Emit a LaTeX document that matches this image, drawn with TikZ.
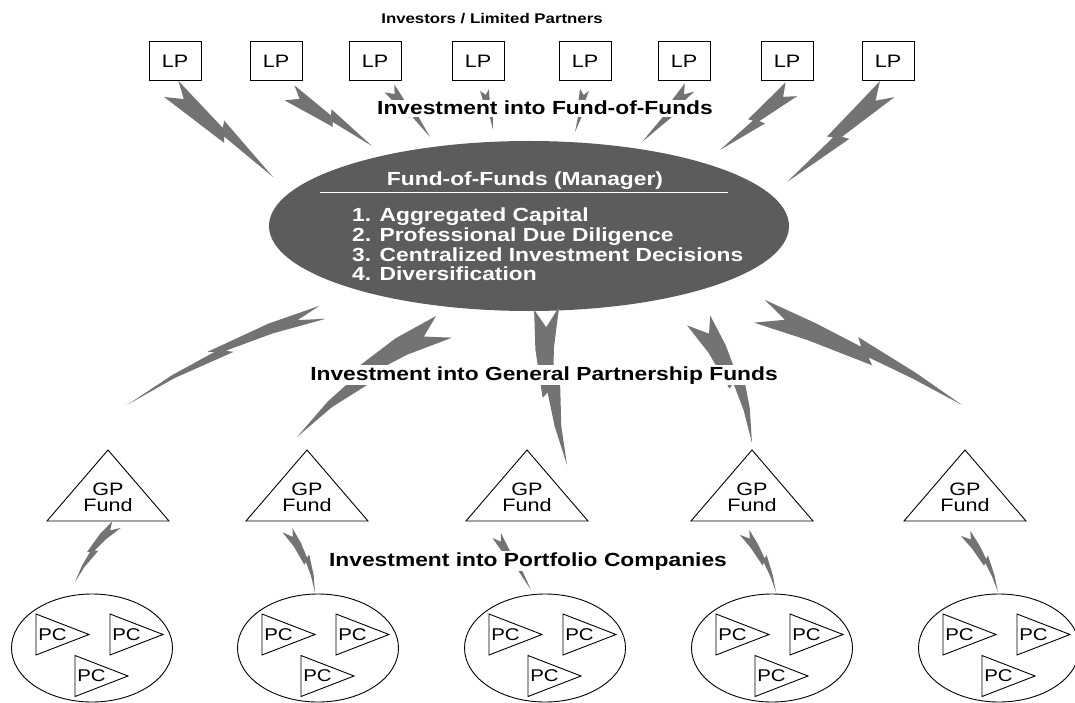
\documentclass[tikz,border=0pt]{standalone}
\usepackage{fontspec}
\setmainfont{Liberation Sans}[FakeStretch=1.2]
\usetikzlibrary{calc,shapes.geometric}
\tikzset{
  boltfill/.style={fill=black!55},
  pics/bolt/.style={code={
    \fill[boltfill] (0,0.5) -- (0.25,{0.40+0.75*#1}) -- (0.56,{0.28+0.985*#1})
      -- (0.53,{0.08+0.996*#1}) -- (0.75,{0.045+0.75*#1}) -- (1,0)
      -- (0.75,{-0.19+0.75*#1}) -- (0.45,{-0.42+0.99*#1}) -- (0.48,{-0.15+0.998*#1})
      -- (0.25,{-0.27+0.75*#1}) -- (0,-0.4) -- (0.12,{0.02+0.42*#1}) -- cycle;
  }},
  thinline/.style={draw=black, line width=0.9pt},
  lpbox/.style={thinline, minimum width=52pt, minimum height=39pt, inner sep=0pt,
    font=\fontsize{18}{18}\selectfont},
  gptext/.style={align=center, inner sep=0pt, font=\fontsize{18}{16}\selectfont},
  pcell/.style={thinline, ellipse, minimum width=161pt, minimum height=108pt, inner sep=0pt},
  pctext/.style={inner sep=0pt, font=\fontsize{17}{17}\selectfont},
  pics/pctri/.style={code={
    \draw[thinline] (0,-20.5) -- (0,20.5) -- (53,0) -- cycle;
    \node[pctext] at (16.5,0) {PC};
  }},
  sectlabel/.style={fill=white, inner sep=1.5pt, anchor=base,
    font=\fontsize{19}{19}\selectfont\bfseries},
  toplabel/.style={inner sep=0pt, anchor=base, font=\fontsize{14}{14}\selectfont\bfseries},
  fofell/.style={ellipse, fill=black!64, minimum width=520pt, minimum height=170pt, inner sep=0pt},
  foftext/.style={text=white, inner sep=0pt, font=\fontsize{19}{19}\selectfont\bfseries},
}
\newcommand\bolt[4]{%
  \path let \p1=($(#2)-(#1)$), \n1={atan2(\y1,\x1)}, \n2={veclen(\x1,\y1)} in
    (#1) pic[rotate=\n1, xscale={\n2/1pt}, yscale=#3]{bolt=#4};
}
\newcommand\gpfund[2]{%
  \node[gptext] (#1) at (#2,497) {GP\\Fund};
  \draw[thinline] ($(#1.center)+(0,-47)$) -- ($(#1.center)+(61,24)$)
    -- ($(#1.center)+(-61,24)$) -- cycle;
}
\newcommand\pcgroup[3]{%
  \node[pcell] (#1) at (#2,#3) {};
  \pic at ($(#1.center)+(-56,-13.5)$) {pctri};
  \pic at ($(#1.center)+(18,-13.5)$) {pctri};
  \pic at ($(#1.center)+(-17,28)$) {pctri};
}
\begin{document}
\begin{tikzpicture}[x=1pt, y=-1pt]
\useasboundingbox (0,0) rectangle (1075,703);
\clip (0,0) rectangle (1075,703);

% LP boxes
\node[lpbox] (lp1) at (175,61) {LP};
\node[lpbox] (lp2) at (276,61) {LP};
\node[lpbox] (lp3) at (375,61) {LP};
\node[lpbox] (lp4) at (478,61) {LP};
\node[lpbox] (lp5) at (585,61) {LP};
\node[lpbox] (lp6) at (684,61) {LP};
\node[lpbox] (lp7) at (787,61) {LP};
\node[lpbox] (lp8) at (888,61) {LP};

% Fund of funds ellipse
\node[fofell] (fof) at (529,226) {};

% GP funds
\gpfund{gp1}{108}
\gpfund{gp2}{307}
\gpfund{gp3}{527}
\gpfund{gp4}{752}
\gpfund{gp5}{965}

% Portfolio company groups
\pcgroup{pcs1}{92}{648}
\pcgroup{pcs2}{318}{648}
\pcgroup{pcs3}{545}{648}
\pcgroup{pcs4}{772}{648}
\pcgroup{pcs5}{999}{648}

% arrow end points
\coordinate (a1t) at (172,88);  \coordinate (a1h) at (273,177);
\coordinate (a2t) at (290,92);  \coordinate (a2h) at (372,146);
\coordinate (a3t) at (390,88);  \coordinate (a3h) at (430,137);
\coordinate (a4t) at (485,90);  \coordinate (a4h) at (493,130);
\coordinate (a5t) at (585,90);  \coordinate (a5h) at (575,132);
\coordinate (a6t) at (690,88);  \coordinate (a6h) at (642,142);
\coordinate (a7t) at (792,90);  \coordinate (a7h) at (720,150);
\coordinate (a8t) at (888,90);  \coordinate (a8h) at (787,182);

\coordinate (b1t) at (323,313); \coordinate (b1h) at (127,405);
\coordinate (b2t) at (445,328); \coordinate (b2h) at (297,437);
\coordinate (b3t) at (548,308); \coordinate (b3h) at (567,465);
\coordinate (b4t) at (700,320); \coordinate (b4h) at (752,443);
\coordinate (b5t) at (760,310); \coordinate (b5h) at (962,405);

\coordinate (c1t) at (117,525); \coordinate (c1h) at (75,582);
\coordinate (c2t) at (288,530); \coordinate (c2h) at (315,593);
\coordinate (c3t) at (497,535); \coordinate (c3h) at (531,590);
\coordinate (c4t) at (745,532); \coordinate (c4h) at (776,592);
\coordinate (c5t) at (966,533); \coordinate (c5h) at (998,592);

% arrows LP -> FoF
\bolt{a1t}{a1h}{24}{0}
\bolt{a2t}{a2h}{20}{0}
\bolt{a3t}{a3h}{14}{0}
\bolt{a4t}{a4h}{10}{0}
\bolt{a5t}{a5h}{10}{0}
\bolt{a6t}{a6h}{14}{0}
\bolt{a7t}{a7h}{20}{0}
\bolt{a8t}{a8h}{24}{0}
% arrows FoF -> GP
\bolt{b1t}{b1h}{16}{0.6}
\bolt{b2t}{b2h}{30}{0.4}
\bolt{b3t}{b3h}{28}{0.3}
\bolt{b4t}{b4h}{28}{-0.3}
\bolt{b5t}{b5h}{28}{-0.2}
% arrows GP -> PC
\bolt{c1t}{c1h}{12}{0.4}
\bolt{c2t}{c2h}{12}{-0.4}
\bolt{c3t}{c3h}{11}{0}
\bolt{c4t}{c4h}{12}{-0.3}
\bolt{c5t}{c5h}{12}{-0.3}

% ellipse contents
\node[foftext, anchor=base] (foftitle) at (525,186) {Fund-of-Funds (Manager)};
\coordinate (rule1) at (320,192.5); \coordinate (rule2) at (728,192.5);
\draw[white, line width=1.2pt] (rule1) -- (rule2);
\node[foftext, anchor=base west] (it1) at (352,222) {1. Aggregated Capital};
\node[foftext, anchor=base west] (it2) at (352,241.5) {2. Professional Due Diligence};
\node[foftext, anchor=base west] (it3) at (352,261) {3. Centralized Investment Decisions};
\node[foftext, anchor=base west] (it4) at (352,280.5) {4. Diversification};

% labels
\node[toplabel] (title) at (492,24) {Investors / Limited Partners};
\node[sectlabel] (lab1) at (545,115) {Investment into Fund-of-Funds};
\node[sectlabel] (lab2) at (544,380) {Investment into General Partnership Funds};
\node[sectlabel] (lab3) at (528,566) {Investment into Portfolio Companies};
\end{tikzpicture}
\end{document}
